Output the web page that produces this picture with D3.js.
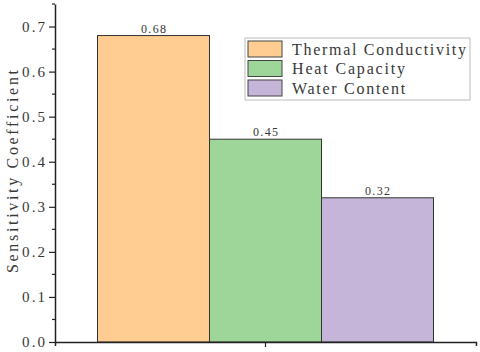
<!DOCTYPE html>
<html>
<head>
<meta charset="utf-8">
<script src="https://cdn.jsdelivr.net/npm/d3@7"></script>
<style>
  body { margin: 0; background: #fff; }
  text { font-family: "Liberation Serif", "DejaVu Serif", serif; fill: #383838; }
</style>
</head>
<body>
<div id="chart"></div>
<script>
var svgWidth = 480;
var svgHeight = 352;

var margin = { left: 55, right: 4, top: 4, bottom: 10 };

var width = svgWidth - margin.left - margin.right,
    height = svgHeight - margin.top - margin.bottom;

// data
var groups = [""];
var seriesNames = ["Thermal Conductivity", "Heat Capacity", "Water Content"];
var seriesValues = [0.68, 0.45, 0.32];
var seriesColors = ["#ffcc91", "#9ed69a", "#c5b5d8"];
var yTicks = [0.0, 0.1, 0.2, 0.3, 0.4, 0.5, 0.6, 0.7];

// monospace-like spacing for the serif font
function monoLen(str, size) { return str.length * size * 0.6; }

var svg = d3.select("#chart")
  .append("svg")
    .attr("width", svgWidth)
    .attr("height", svgHeight);

var chartGroup = svg.append("g")
  .attr("transform", `translate(${margin.left}, ${margin.top})`);

var xScale = d3.scaleBand()
  .domain(groups)
  .range([0, width])
  .paddingInner(0)
  .paddingOuter(0.1265);

var xSub = d3.scaleBand()
  .domain(seriesNames)
  .range([0, xScale.bandwidth()]);

var yScale = d3.scaleLinear()
  .domain([0, 0.75])
  .range([height, 0]);

// bars
var barGroup = chartGroup.selectAll(".grp")
  .data(groups)
  .enter()
  .append("g")
  .attr("transform", d => `translate(${xScale(d)},0)`);

barGroup.selectAll("rect")
  .data(seriesNames.map((n, i) => ({ name: n, value: seriesValues[i], color: seriesColors[i] })))
  .enter()
  .append("rect")
  .attr("x", d => xSub(d.name))
  .attr("y", d => yScale(d.value))
  .attr("width", xSub.bandwidth())
  .attr("height", d => height - yScale(d.value))
  .attr("fill", d => d.color)
  .attr("stroke", "#333")
  .attr("stroke-width", 1);

barGroup.selectAll(".val")
  .data(seriesNames.map((n, i) => ({ name: n, value: seriesValues[i] })))
  .enter()
  .append("text")
  .attr("class", "val")
  .attr("x", d => xSub(d.name) + xSub.bandwidth() / 2)
  .attr("y", d => yScale(d.value) - 3)
  .attr("text-anchor", "middle")
  .style("font-size", "12px")
  .attr("textLength", 25)
  .attr("lengthAdjust", "spacing")
  .text(d => d.value.toFixed(2));

// axes
var leftAxis = d3.axisLeft(yScale)
  .tickValues(yTicks)
  .tickFormat(d3.format(".1f"))
  .tickSize(6)
  .tickSizeOuter(0);

var yAxisG = chartGroup.append("g")
  .call(leftAxis);
yAxisG.select(".domain").attr("stroke", "#222").attr("stroke-width", 1.5);
yAxisG.selectAll(".tick line").attr("stroke", "#222").attr("stroke-width", 1.2);
yAxisG.selectAll(".tick text")
  .style("font-family", "'Liberation Serif', serif")
  .style("font-size", "15px")
  .attr("textLength", 23)
  .attr("lengthAdjust", "spacing")
  .attr("dx", "-1");

var minorTicks = d3.range(0.05, 0.76, 0.1);
chartGroup.append("g")
  .selectAll("line")
  .data(minorTicks)
  .enter()
  .append("line")
  .attr("x1", -3)
  .attr("x2", 0)
  .attr("y1", d => yScale(d))
  .attr("y2", d => yScale(d))
  .attr("stroke", "#222")
  .attr("stroke-width", 1.2);

var bottomAxis = d3.axisBottom(xScale)
  .tickSize(5)
  .tickSizeOuter(4);

var xAxisG = chartGroup.append("g")
  .attr("transform", `translate(0, ${height})`)
  .call(bottomAxis);
xAxisG.select(".domain").attr("stroke", "#222").attr("stroke-width", 1.5);
xAxisG.selectAll(".tick line").attr("stroke", "#222").attr("stroke-width", 1.2);

// axis title
var yTitle = "Sensitivity Coefficient";
chartGroup.append("text")
  .attr("transform", "rotate(-90)")
  .attr("x", 0 - 171.5 + margin.top)
  .attr("y", 0 - margin.left + 18)
  .attr("text-anchor", "middle")
  .style("font-size", "16px")
  .attr("textLength", 203)
  .attr("lengthAdjust", "spacing")
  .text(yTitle);

// legend
var legend = svg.append("g")
  .attr("transform", "translate(245, 38)");

legend.append("rect")
  .attr("width", 225)
  .attr("height", 62)
  .attr("fill", "#fff")
  .attr("stroke", "#bbb")
  .attr("stroke-width", 1);

var legendItems = legend.selectAll(".item")
  .data(seriesNames)
  .enter()
  .append("g")
  .attr("transform", (d, i) => `translate(3, ${3 + i * 19.5})`);

legendItems.append("rect")
  .attr("width", 34)
  .attr("height", 16)
  .attr("fill", (d, i) => seriesColors[i])
  .attr("stroke", "#444")
  .attr("stroke-width", 1);

legendItems.append("text")
  .attr("x", 44)
  .attr("y", 13.5)
  .style("font-size", "16px")
  .attr("textLength", d => monoLen(d, 14.5))
  .attr("lengthAdjust", "spacing")
  .text(d => d);
</script>
</body>
</html>
